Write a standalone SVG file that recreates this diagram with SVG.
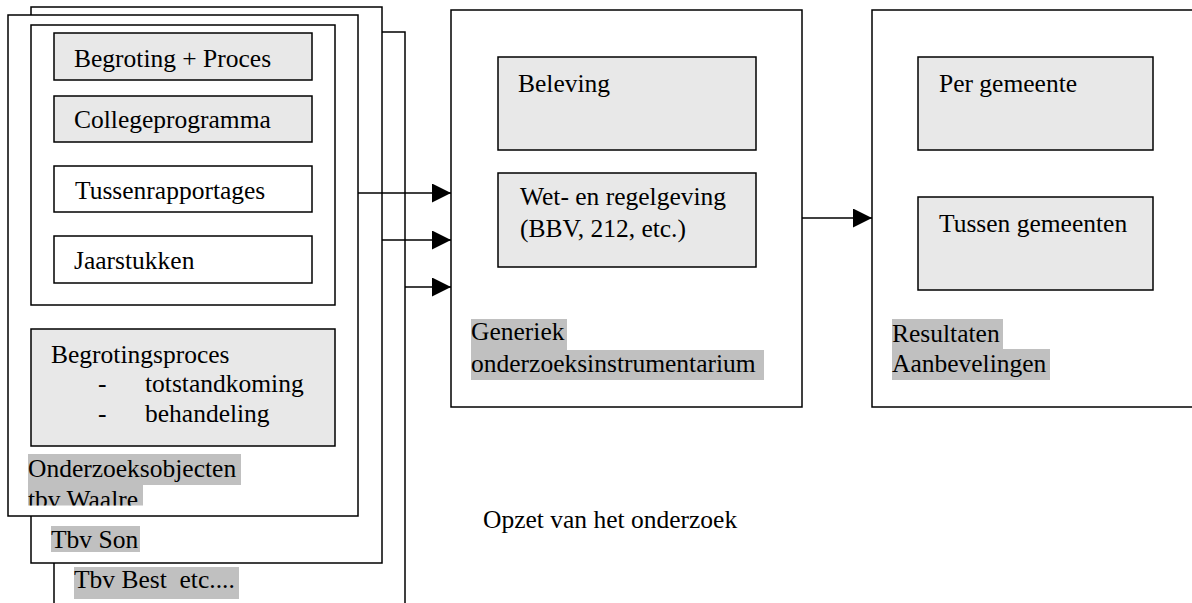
<svg xmlns="http://www.w3.org/2000/svg" width="1192" height="603" viewBox="0 0 1192 603">
<style>
  .frame { fill: #ffffff; stroke: #000000; stroke-width: 1.5; }
  .box { fill: #e8e8e8; stroke: #000000; stroke-width: 1.5; }
  .wbox { fill: #ffffff; stroke: #000000; stroke-width: 1.5; }
  .hl { fill: #c0c0c0; stroke: none; }
  text { font-family: "Liberation Serif", "Times New Roman", serif; font-size: 25.5px; fill: #000000; }
  .conn { stroke: #000000; stroke-width: 1.5; fill: none; }
</style>
<defs>
  <marker id="arrow" markerWidth="20" markerHeight="19" refX="19" refY="9.5" orient="auto" markerUnits="userSpaceOnUse">
    <path d="M0,0 L19,9.5 L0,19 Z" fill="#000000"/>
  </marker>
  <clipPath id="waalreClip"><rect x="0" y="0" width="400" height="505.5"/></clipPath>
</defs>
<rect width="1192" height="603" fill="#ffffff"/>

<g id="frame-best">
  <rect class="frame" x="54" y="32" width="351" height="590"/>
  <rect class="hl" x="74" y="567" width="165" height="32"/>
  <text x="74" y="588">Tbv Best&#160; etc....</text>
</g>

<g id="frame-son">
  <rect class="frame" x="31" y="7" width="351" height="556"/>
  <rect class="hl" x="51" y="526" width="89" height="26"/>
  <text x="51" y="548">Tbv Son</text>
</g>

<g id="frame-waalre">
  <rect class="frame" x="8" y="15" width="350" height="501"/>
  <rect class="wbox" x="31" y="25" width="304" height="280"/>
  <g id="begroting-proces">
    <rect class="box" x="54" y="33" width="258" height="47"/>
    <text x="74" y="67">Begroting + Proces</text>
  </g>
  <g id="collegeprogramma">
    <rect class="box" x="54" y="96" width="258" height="46"/>
    <text x="74" y="128">Collegeprogramma</text>
  </g>
  <g id="tussenrapportages">
    <rect class="wbox" x="54" y="166" width="258" height="46"/>
    <text x="75" y="199">Tussenrapportages</text>
  </g>
  <g id="jaarstukken">
    <rect class="wbox" x="54" y="236" width="258" height="47"/>
    <text x="74" y="269">Jaarstukken</text>
  </g>
  <g id="begrotingsproces">
    <rect class="box" x="31" y="329" width="304" height="117"/>
    <text x="51" y="363">Begrotingsproces</text>
    <text x="98" y="392">-</text>
    <text x="145" y="392">totstandkoming</text>
    <text x="98" y="422">-</text>
    <text x="145" y="422">behandeling</text>
  </g>
  <g clip-path="url(#waalreClip)">
    <rect class="hl" x="28" y="454" width="213" height="31"/>
    <rect class="hl" x="28" y="485" width="115" height="21"/>
    <text x="28" y="477">Onderzoeksobjecten</text>
    <text x="28" y="508">tbv Waalre</text>
  </g>
</g>

<g id="instrumentarium">
  <rect class="frame" x="451" y="10" width="351" height="397"/>
  <g id="beleving">
    <rect class="box" x="498" y="57" width="258" height="93"/>
    <text x="518" y="92">Beleving</text>
  </g>
  <g id="wetgeving">
    <rect class="box" x="498" y="173" width="258" height="94"/>
    <text x="520" y="205">Wet- en regelgeving</text>
    <text x="520" y="237">(BBV, 212, etc.)</text>
  </g>
  <rect class="hl" x="471" y="319" width="96" height="31"/>
  <rect class="hl" x="471" y="350" width="293" height="30"/>
  <text x="471" y="340">Generiek</text>
  <text x="471" y="372">onderzoeksinstrumentarium</text>
</g>

<g id="resultaten">
  <rect class="frame" x="872" y="10" width="330" height="397"/>
  <g id="per-gemeente">
    <rect class="box" x="918" y="57" width="235" height="93"/>
    <text x="939" y="92">Per gemeente</text>
  </g>
  <g id="tussen-gemeenten">
    <rect class="box" x="918" y="197" width="235" height="93"/>
    <text x="939" y="232">Tussen gemeenten</text>
  </g>
  <rect class="hl" x="892" y="319" width="111" height="30"/>
  <rect class="hl" x="892" y="349" width="158" height="31"/>
  <text x="892" y="342">Resultaten</text>
  <text x="892" y="372">Aanbevelingen</text>
</g>

<g id="caption">
  <text x="483" y="528">Opzet van het onderzoek</text>
</g>

<g id="connectors">
  <line class="conn" x1="358" y1="193" x2="451" y2="193" marker-end="url(#arrow)"/>
  <line class="conn" x1="382" y1="240" x2="451" y2="240" marker-end="url(#arrow)"/>
  <line class="conn" x1="405" y1="287" x2="451" y2="287" marker-end="url(#arrow)"/>
  <line class="conn" x1="802" y1="218" x2="872" y2="218" marker-end="url(#arrow)"/>
</g>
</svg>
